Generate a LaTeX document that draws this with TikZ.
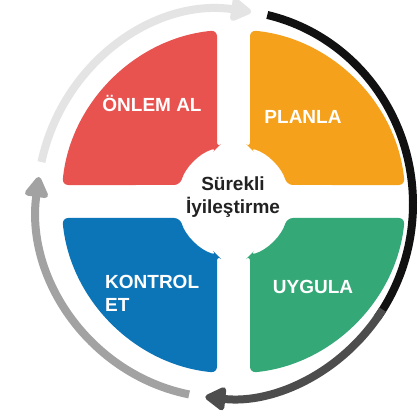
\documentclass[tikz,border=0pt]{standalone}
\usepackage{fontspec}
\setmainfont{Liberation Sans}
\usetikzlibrary{arrows.meta,calc}
\definecolor{qred}{HTML}{E8524F}
\definecolor{qorange}{HTML}{F5A11C}
\definecolor{qblue}{HTML}{0B75B8}
\definecolor{qgreen}{HTML}{35A878}
\definecolor{ringlight}{HTML}{E4E4E4}
\definecolor{ringblack}{HTML}{111111}
\definecolor{ringdark}{HTML}{4D4D4D}
\definecolor{ringmid}{HTML}{A2A2A2}
\definecolor{txtdark}{HTML}{222222}
\tikzset{
  quad/.style={rounded corners=6pt},
  qlabel/.style={text=white, font=\fontsize{19}{23}\selectfont\bfseries, inner sep=0pt},
  ctext/.style={text=txtdark, font=\fontsize{19}{23}\selectfont\bfseries, align=center, inner sep=0pt},
  ring/.style={line width=8pt},
  ringtip/.style={-{Triangle[width=26pt,length=23pt,round]}}
}
\newcommand{\quadpath}{(-16.5pt,53.5pt) -- (-16.5pt,171.2pt) arc[start angle=95.5,end angle=174.5,radius=172pt] -- (-53.5pt,16.5pt) arc[start angle=162.9,end angle=107.1,radius=56pt] -- cycle}
\begin{document}
\begin{tikzpicture}[x=1pt,y=1pt]
\useasboundingbox (0,0) rectangle (417,419);
\fill[white] (0,0) rectangle (417,419);
\coordinate (C) at (233.5,217.5);
\coordinate (O) at (225,215);
% quadrants
\begin{scope}[shift={(C)}]
  \fill[qred, quad] \quadpath;
\end{scope}
\begin{scope}[shift={(C)}, xscale=-1]
  \fill[qorange, quad] \quadpath;
\end{scope}
\begin{scope}[shift={(C)}, yscale=-1]
  \fill[qblue, quad] \quadpath;
\end{scope}
\begin{scope}[shift={(C)}, xscale=-1, yscale=-1]
  \fill[qgreen, quad] \quadpath;
\end{scope}
% labels
\node[qlabel] (onlem) at (152,316) {ÖNLEM AL};
\node[qlabel] (planla) at (303,302) {PLANLA};
\node[qlabel] (uygula) at (313,132) {UYGULA};
\node[qlabel, align=left, anchor=west] (kontrol) at (105,125.5) {KONTROL\\ET};
\node[ctext] (center) at (233,222) {Sürekli\\İyileştirme};
% ring arrows
\draw[ring, ringlight, ringtip] ($(O)+(167.5:188pt and 194pt)$) arc[start angle=167.5, end angle=82, x radius=188pt, y radius=194pt];
\draw[ring, ringblack] ($(O)+(77:188pt and 194pt)$) arc[start angle=77, end angle=-36, x radius=188pt, y radius=194pt];
\draw[ring, ringdark, ringtip] ($(O)+(-33:188pt and 194pt)$) arc[start angle=-33, end angle=-96, x radius=188pt, y radius=194pt];
\draw[ring, ringmid, ringtip] ($(O)+(-101:188pt and 194pt)$) arc[start angle=-101, end angle=-188, x radius=188pt, y radius=194pt];
\end{tikzpicture}
\end{document}
